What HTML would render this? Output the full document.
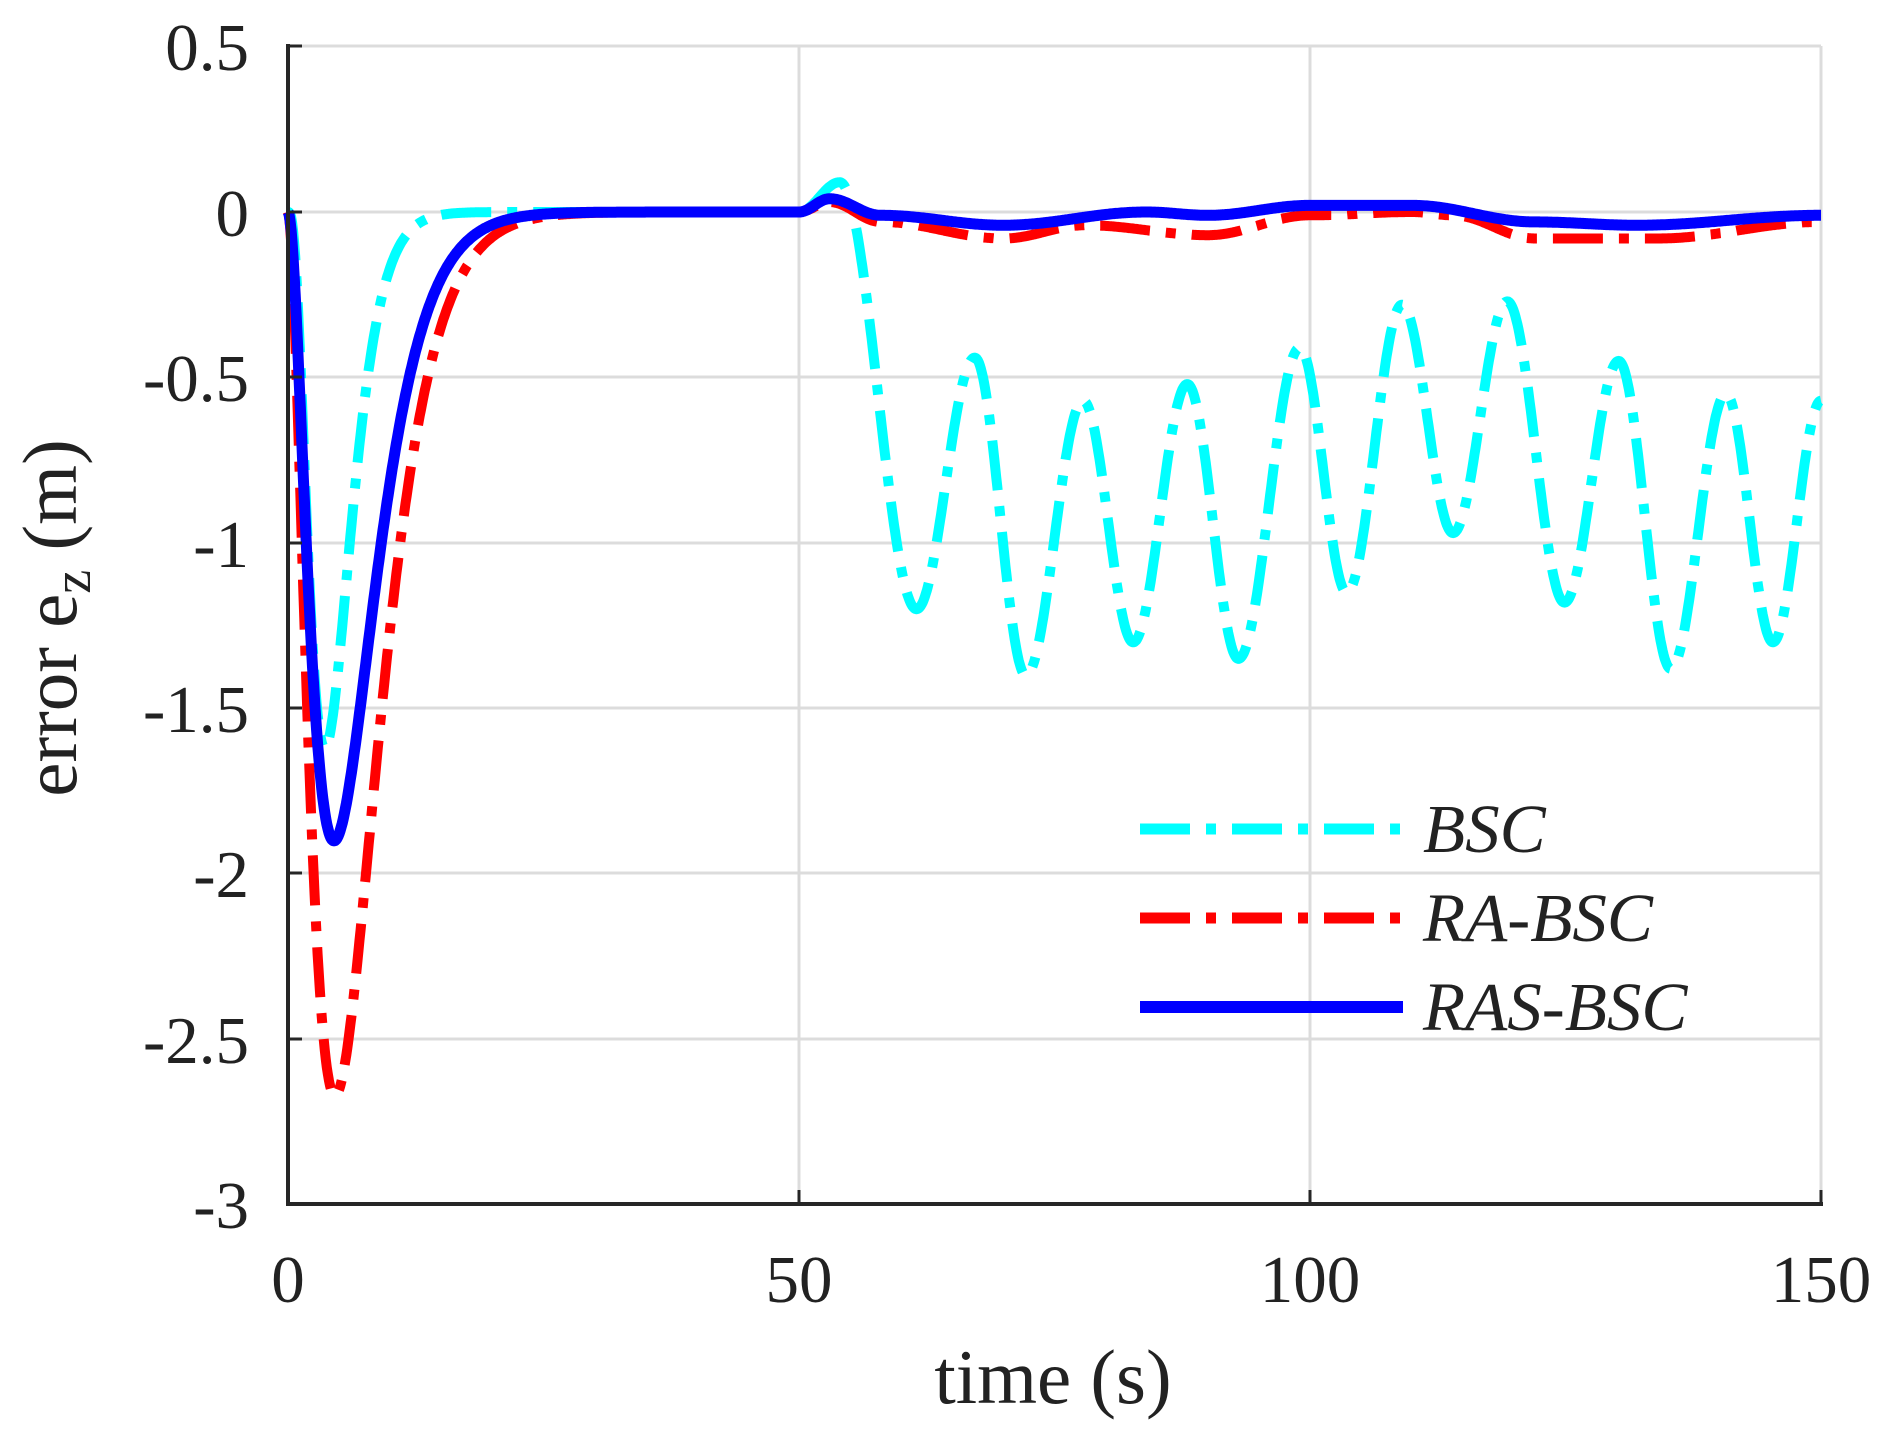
<!DOCTYPE html>
<html><head><meta charset="utf-8"><style>
html,body{margin:0;padding:0;background:#fff}
svg{display:block}
text{font-family:"Liberation Serif",serif;fill:#222}
</style></head><body>
<svg id="s" width="1891" height="1437" viewBox="0 0 1891 1437" xmlns="http://www.w3.org/2000/svg">
<rect width="1891" height="1437" fill="#fff"/>
<g stroke="#dcdcdc" stroke-width="3">
<line x1="799" y1="46" x2="799" y2="1204"/>
<line x1="1310" y1="46" x2="1310" y2="1204"/>
<line x1="1821" y1="46" x2="1821" y2="1204"/>
<line x1="288" y1="46" x2="1821" y2="46"/>
<line x1="288" y1="212" x2="1821" y2="212"/>
<line x1="288" y1="377" x2="1821" y2="377"/>
<line x1="288" y1="543" x2="1821" y2="543"/>
<line x1="288" y1="708" x2="1821" y2="708"/>
<line x1="288" y1="873" x2="1821" y2="873"/>
<line x1="288" y1="1039" x2="1821" y2="1039"/>
</g>
<g id="curves" fill="none" stroke-linejoin="round"></g>
<g stroke="#262626" stroke-width="4" fill="none">
<line x1="288" y1="44" x2="288" y2="1206"/>
<line x1="286" y1="1204" x2="1823" y2="1204"/>
<g stroke-width="3">
<line x1="288" y1="46" x2="302" y2="46"/><line x1="288" y1="212" x2="302" y2="212"/><line x1="288" y1="377" x2="302" y2="377"/><line x1="288" y1="543" x2="302" y2="543"/><line x1="288" y1="708" x2="302" y2="708"/><line x1="288" y1="873" x2="302" y2="873"/><line x1="288" y1="1039" x2="302" y2="1039"/>
<line x1="799" y1="1204" x2="799" y2="1190"/><line x1="1310" y1="1204" x2="1310" y2="1190"/><line x1="1821" y1="1204" x2="1821" y2="1190"/>
</g></g>
<g font-size="67" text-anchor="end">
<text x="249" y="70">0.5</text><text x="249" y="236">0</text><text x="249" y="401">-0.5</text><text x="249" y="567">-1</text><text x="249" y="732">-1.5</text><text x="249" y="897">-2</text><text x="249" y="1063">-2.5</text><text x="249" y="1228">-3</text>
</g>
<g font-size="67" text-anchor="middle">
<text x="288" y="1302">0</text><text x="799" y="1302">50</text><text x="1310" y="1302">100</text><text x="1821" y="1302">150</text>
</g>
<text x="1053" y="1403" font-size="77" text-anchor="middle">time (s)</text>
<text transform="translate(76,618) rotate(-90)" font-size="77" text-anchor="middle">error e<tspan font-size="54" dy="14">z</tspan><tspan dy="-14"> (m)</tspan></text>
<line x1="1140" y1="829" x2="1403" y2="829" stroke="#00ffff" stroke-width="11" stroke-dasharray="50 16 10 16"/>
<line x1="1140" y1="918" x2="1403" y2="918" stroke="#ff0000" stroke-width="11" stroke-dasharray="50 16 10 16"/>
<line x1="1140" y1="1007" x2="1403" y2="1007" stroke="#0000ff" stroke-width="12"/>
<g font-size="69" font-style="italic">
<text x="1423" y="852">BSC</text><text x="1423" y="941">RA-BSC</text><text x="1423" y="1030">RAS-BSC</text>
</g>
</svg>
<script>
function X(t){return 288+t*(1533/150);}
function Y(v){return 212-v*331;}
function gam(t,A,tp,k){var r=t/tp;return -A*Math.pow(r,k)*Math.exp(k*(1-r));}
function interp(pts,t){for(var i=0;i<pts.length-1;i++){if(t>=pts[i][0]&&t<=pts[i+1][0]){var a=pts[i],b=pts[i+1];var f=(t-a[0])/(b[0]-a[0]);f=(1-Math.cos(Math.PI*f))/2;return a[1]+(b[1]-a[1])*f;}}return pts[pts.length-1][1];}
var cyanP=[[50,0],[54,0.09],[61.5,-1.2],[67.2,-0.44],[72.2,-1.4],[77.8,-0.57],[82.7,-1.3],[88,-0.52],[93,-1.35],[99,-0.41],[103.6,-1.15],[109,-0.28],[114,-0.97],[119.3,-0.27],[124.9,-1.18],[130.2,-0.45],[135.3,-1.38],[140.7,-0.55],[145.3,-1.3],[150,-0.57]];
var blueP=[[50,0],[53,0.04],[58,-0.01],[70,-0.04],[84,0.0],[90,-0.01],[100,0.02],[110,0.02],[122,-0.03],[132,-0.04],[150,-0.01]];
var redP=[[50,0],[53,0.03],[58,-0.03],[70,-0.08],[78,-0.04],[90,-0.07],[100,-0.01],[110,0.0],[114,-0.01],[122,-0.08],[134,-0.08],[150,-0.03]];
function cyan(t){return t<50?gam(t,1.62,3.6,3):interp(cyanP,t);}
function red(t){return t<50?gam(t,2.67,4.6,1.9):interp(redP,t);}
function blue(t){return t<50?gam(t,1.9,4.5,2):interp(blueP,t);}
function path(f){var d="";for(var t=0;t<=150.001;t+=0.1){d+=(t==0?"M":"L")+X(t).toFixed(1)+" "+Y(f(t)).toFixed(1);}return d;}
var g=document.getElementById("curves");
function add(f,c,w,da){var p=document.createElementNS("http://www.w3.org/2000/svg","path");p.setAttribute("d",path(f));p.setAttribute("stroke",c);p.setAttribute("stroke-width",w);if(da)p.setAttribute("stroke-dasharray",da);g.appendChild(p);}
add(cyan,"#00ffff",10,"50 16 10 16");
add(red,"#ff0000",10,"50 16 10 16");
add(blue,"#0000ff",11,null);
</script>
</body></html>
